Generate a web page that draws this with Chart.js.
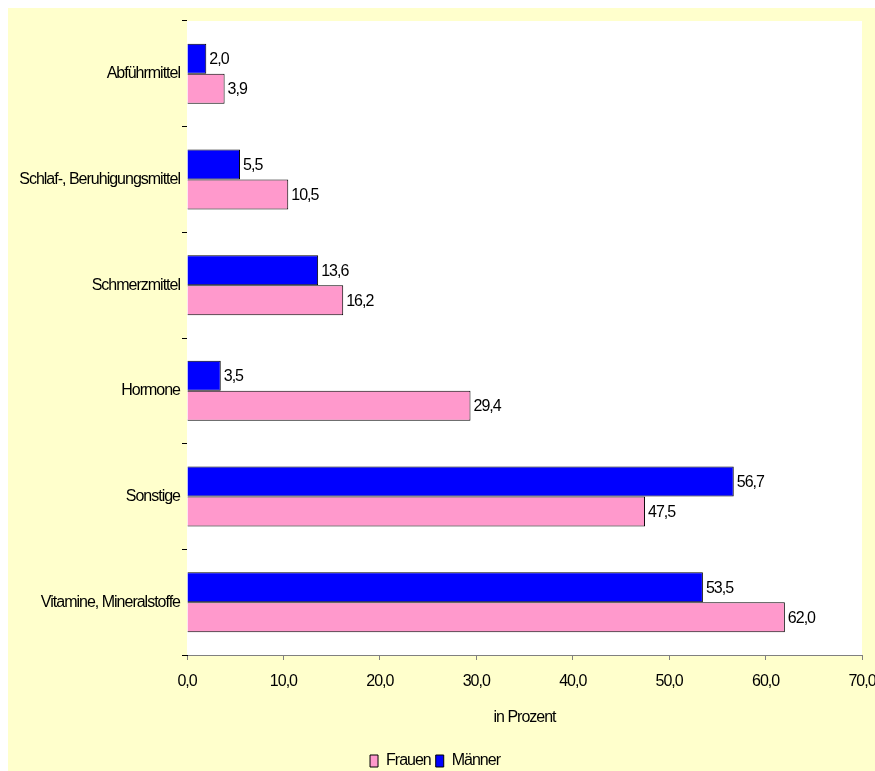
<!DOCTYPE html>
<html>
<head>
<meta charset="utf-8">
<script src="https://cdn.jsdelivr.net/npm/chart.js@4.4.1/dist/chart.umd.min.js"></script>
<style>
  html, body { margin: 0; padding: 0; background: #ffffff; }
  #wrap { position: absolute; left: 8px; top: 8px; width: 867px; height: 763px; background: #ffffcc; }
</style>
</head>
<body>
<div id="wrap"><canvas id="chart" width="867" height="763"></canvas></div>
<script>
const categories = ['Abführmittel', 'Schlaf-, Beruhigungsmittel', 'Schmerzmittel', 'Hormone', 'Sonstige', 'Vitamine, Mineralstoffe'];
const maenner = [2.0, 5.5, 13.6, 3.5, 56.7, 53.5];
const frauen = [3.9, 10.5, 16.2, 29.4, 47.5, 62.0];
const xTicks = [0, 10, 20, 30, 40, 50, 60, 70];

const FONT = { family: '"Liberation Sans", Arial, sans-serif', size: 16 };

function fmt(v) {
    return v.toFixed(1).replace('.', ',');
}

// tight letter spacing like the original
const spacingPlugin = {
    id: 'spacing',
    beforeUpdate(chart) { chart.ctx.letterSpacing = '-1px'; },
    beforeLayout(chart) { chart.ctx.letterSpacing = '-1px'; },
    beforeDraw(chart) { chart.ctx.letterSpacing = '-1px'; }
};

// white plot area
const plotBg = {
    id: 'plotBg',
    beforeDatasetsDraw(chart) {
        const { ctx, chartArea } = chart;
        ctx.save();
        ctx.fillStyle = '#ffffff';
        ctx.fillRect(chartArea.left, chartArea.top, chartArea.right - chartArea.left, chartArea.bottom - chartArea.top);
        ctx.restore();
    }
};

// value labels at bar ends
const valueLabels = {
    id: 'valueLabels',
    afterDatasetsDraw(chart) {
        const ctx = chart.ctx;
        ctx.save();
        ctx.letterSpacing = '-1px';
        ctx.font = `${FONT.size}px ${FONT.family}`;
        ctx.fillStyle = '#000000';
        ctx.textAlign = 'left';
        ctx.textBaseline = 'middle';
        chart.data.datasets.forEach((ds, i) => {
            chart.getDatasetMeta(i).data.forEach((bar, j) => {
                ctx.fillText(fmt(ds.data[j]), bar.x + 3, bar.y + 1);
            });
        });
        ctx.restore();
    }
};

const ctx = document.getElementById('chart').getContext('2d');
new Chart(ctx, {
    type: 'bar',
    data: {
        labels: categories,
        datasets: [
            {
                label: 'Männer',
                data: maenner,
                backgroundColor: '#0000ff',
                borderColor: '#000000',
                borderWidth: 1
            },
            {
                label: 'Frauen',
                data: frauen,
                backgroundColor: '#ff99cc',
                borderColor: '#000000',
                borderWidth: 1
            }
        ]
    },
    options: {
        indexAxis: 'y',
        responsive: false,
        animation: false,
        categoryPercentage: 0.568,
        barPercentage: 1.0,
        layout: { padding: { top: 13, right: 13, left: 0, bottom: -8 } },
        scales: {
            x: {
                min: 0,
                max: 70,
                afterBuildTicks(scale) {
                    scale.ticks = xTicks.map(v => ({ value: v }));
                },
                ticks: {
                    color: '#000000',
                    font: FONT,
                    padding: 12,
                    callback: v => fmt(v)
                },
                grid: { drawOnChartArea: false, drawTicks: true, tickLength: 5, color: '#808080' },
                border: { color: '#808080', width: 1 },
                title: { display: true, text: 'in Prozent', color: '#000000', font: FONT, padding: { top: 14, bottom: 21 } },
                afterFit(scale) {
                    scale.height = 93;
                    scale.paddingLeft = 0;
                    scale.paddingRight = 0;
                }
            },
            y: {
                ticks: { color: '#000000', font: FONT, padding: 2 },
                grid: { offset: true, drawOnChartArea: false, drawTicks: true, tickLength: 5, color: '#000000' },
                border: { color: '#000000', width: 1 },
                afterFit(scale) { scale.width = 179; }
            }
        },
        plugins: {
            legend: {
                position: 'bottom',
                reverse: true,
                labels: {
                    color: '#000000',
                    font: FONT,
                    boxWidth: 8,
                    boxHeight: 12,
                    padding: 5
                }
            },
            tooltip: { enabled: false }
        }
    },
    plugins: [spacingPlugin, plotBg, valueLabels]
});
</script>
</body>
</html>
